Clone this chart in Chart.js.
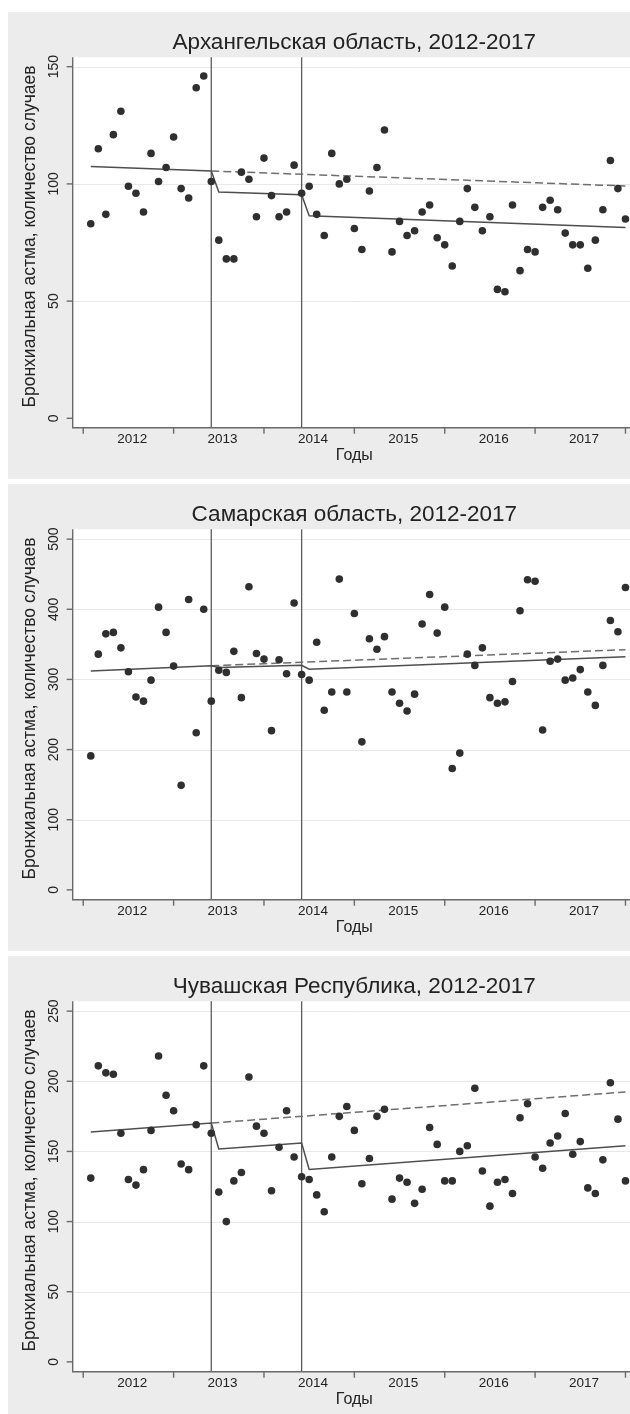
<!DOCTYPE html>
<html>
<head>
<meta charset="utf-8">
<script src="https://cdn.jsdelivr.net/npm/chart.js@4.4.1/dist/chart.umd.min.js"></script>
<style>
  html, body { margin: 0; padding: 0; background: #ffffff; overflow: hidden; width: 630px; height: 1414px; }
  canvas.panel { position: absolute; left: 8px; }
</style>
</head>
<body>
<canvas id="arkh" class="panel" width="632" height="467" style="top:12px"></canvas>
<canvas id="samara" class="panel" width="632" height="467" style="top:484px"></canvas>
<canvas id="chuv" class="panel" width="632" height="467" style="top:956px"></canvas>
<script>
// Monthly series, January 2012 (month 1) to December 2017 (month 72)
const months = Array.from({ length: 72 }, (_, i) => i + 1);

// X axis: year boundaries and year labels
const yearTickMonths = [0, 12, 24, 36, 48, 60, 72];
const yearLabels = ['2012', '2013', '2014', '2015', '2016', '2017'];
const yearLabelMonths = [6.5, 18.5, 30.5, 42.5, 54.5, 66.5];

// Interventions (vertical reference lines)
const breakMonths = [17, 29];

// Segmented-regression fit: knots of the fitted line and of the counterfactual trend
const fitMonths = [1, 17, 18, 29, 30, 72];
const counterfactualMonths = [17, 72];

// Архангельская область
const arkhCases = [83, 115, 87, 121, 131, 99, 96, 88, 113, 101,
  107, 120, 98, 94, 141, 146, 101, 76, 68, 68,
  105, 102, 86, 111, 95, 86, 88, 108, 96, 99,
  87, 78, 113, 100, 102, 81, 72, 97, 107, 123,
  71, 84, 78, 80, 88, 91, 77, 74, 65, 84,
  98, 90, 80, 86, 55, 54, 91, 63, 72, 71,
  90, 93, 89, 79, 74, 74, 64, 76, 89, 110,
  98, 85];
const arkhFit = [107.4, 105.5, 96.5, 95.4, 86.4, 81.4];
const arkhCounterfactual = [105.5, 99.1];
const arkhTicks = [0, 50, 100, 150];

// Самарская область
const samaraCases = [191, 336, 365, 367, 345, 311, 275, 269, 299, 403,
  367, 319, 149, 414, 224, 400, 269, 313, 310, 340,
  274, 432, 337, 329, 227, 328, 308, 409, 307, 299,
  353, 256, 282, 443, 282, 394, 211, 358, 343, 361,
  282, 266, 255, 279, 379, 421, 366, 403, 173, 195,
  336, 320, 345, 274, 266, 268, 297, 398, 442, 440,
  228, 326, 329, 299, 302, 314, 282, 263, 320, 384,
  368, 431];
const samaraFit = [311.9, 319.5, 317.0, 320.2, 314.6, 332.3];
const samaraCounterfactual = [319.5, 342.4];
const samaraTicks = [0, 100, 200, 300, 400, 500];

// Чувашская Республика
const chuvCases = [131, 211, 206, 205, 163, 130, 126, 137, 165, 218,
  190, 179, 141, 137, 169, 211, 163, 121, 100, 129,
  135, 203, 168, 163, 122, 153, 179, 146, 132, 130,
  119, 107, 146, 175, 182, 165, 127, 145, 175, 180,
  116, 131, 128, 113, 123, 167, 155, 129, 129, 150,
  154, 195, 136, 111, 128, 130, 120, 174, 184, 146,
  138, 156, 161, 177, 148, 157, 124, 120, 144, 199,
  173, 129];
const chuvFit = [163.8, 170.2, 151.7, 156.0, 137.1, 154.1];
const chuvCounterfactual = [170.2, 192.4];
const chuvTicks = [0, 50, 100, 150, 200, 250];

const FONT = '"Liberation Sans", Arial, Helvetica, sans-serif';
const AXIS_TITLE = 'Бронхиальная астма, количество случаев';
const X_TITLE = 'Годы';

// Panel background, gridlines and intervention lines
const backdrop = {
  id: 'backdrop',
  beforeDraw(chart) {
    const { ctx, chartArea: a, width, height } = chart;
    ctx.save();
    ctx.fillStyle = '#ececec';
    ctx.fillRect(0, 0, width, height);
    ctx.fillStyle = '#ffffff';
    ctx.fillRect(a.left, a.top, a.right - a.left, a.bottom - a.top);
    ctx.restore();
  },
  beforeDatasetsDraw(chart, args, opts) {
    const { ctx, chartArea: a, scales } = chart;
    ctx.save();
    ctx.strokeStyle = '#e8e8e8';
    ctx.lineWidth = 1;
    opts.yTicks.forEach(v => {
      if (v === 0) return;
      const y = Math.round(scales.y.getPixelForValue(v)) + 0.5;
      ctx.beginPath(); ctx.moveTo(a.left, y); ctx.lineTo(a.right, y); ctx.stroke();
    });
    ctx.strokeStyle = '#5c5c5c';
    ctx.lineWidth = 1.3;
    breakMonths.forEach(m => {
      const x = scales.x.getPixelForValue(m);
      ctx.beginPath(); ctx.moveTo(x, a.top); ctx.lineTo(x, a.bottom); ctx.stroke();
    });
    ctx.restore();
  }
};

// Axes, tick marks, tick labels and titles
const frame = {
  id: 'frame',
  afterDraw(chart, args, opts) {
    const { ctx, chartArea: a, scales } = chart;
    const cx = (a.left + a.right) / 2;
    ctx.save();
    ctx.strokeStyle = '#6a6a6a';
    ctx.lineWidth = 1.4;
    ctx.beginPath();
    ctx.moveTo(a.left, a.top); ctx.lineTo(a.left, a.bottom); ctx.lineTo(a.right, a.bottom);
    ctx.stroke();

    // y ticks
    ctx.fillStyle = '#222';
    ctx.font = '14px ' + FONT;
    ctx.textAlign = 'center';
    ctx.textBaseline = 'middle';
    opts.yTicks.forEach(v => {
      const y = scales.y.getPixelForValue(v);
      ctx.beginPath(); ctx.moveTo(a.left - 6, y); ctx.lineTo(a.left, y); ctx.stroke();
      ctx.save();
      ctx.translate(a.left - 19, y);
      ctx.rotate(-Math.PI / 2);
      ctx.fillText(String(v), 0, 0);
      ctx.restore();
    });

    // x ticks
    yearTickMonths.forEach(m => {
      const x = scales.x.getPixelForValue(m);
      ctx.beginPath(); ctx.moveTo(x, a.bottom); ctx.lineTo(x, a.bottom + 6); ctx.stroke();
    });
    ctx.font = '13.5px ' + FONT;
    yearLabels.forEach((t, i) => {
      ctx.fillText(t, scales.x.getPixelForValue(yearLabelMonths[i]), a.bottom + 12);
    });

    // titles
    ctx.font = '16px ' + FONT;
    ctx.fillText(X_TITLE, cx, a.bottom + 28);
    ctx.save();
    ctx.translate(22, (a.top + a.bottom) / 2 - 6);
    ctx.rotate(-Math.PI / 2);
    ctx.font = '17.5px ' + FONT;
    ctx.fillText(AXIS_TITLE, 0, 0);
    ctx.restore();
    ctx.font = '22.5px ' + FONT;
    ctx.fillText(opts.title, cx, 31);
    ctx.restore();
  }
};

function toPoints(xs, ys) {
  return ys.map((y, i) => ({ x: xs[i], y }));
}

function makePanel(id, title, cases, fit, counterfactual, ticks, yMin, yMax) {
  new Chart(document.getElementById(id), {
    type: 'scatter',
    data: {
      datasets: [
        {
          type: 'line',
          data: toPoints(counterfactualMonths, counterfactual),
          borderColor: '#6e6e6e',
          borderWidth: 1.5,
          borderDash: [8, 4],
          pointRadius: 0,
          fill: false,
          order: 3
        },
        {
          type: 'line',
          data: toPoints(fitMonths, fit),
          borderColor: '#4e4e4e',
          borderWidth: 1.5,
          pointRadius: 0,
          fill: false,
          order: 2
        },
        {
          data: toPoints(months, cases),
          backgroundColor: '#2f2f2f',
          borderWidth: 0,
          pointRadius: 3.8,
          order: 1
        }
      ]
    },
    options: {
      responsive: false,
      animation: false,
      devicePixelRatio: 1,
      layout: { padding: { left: 64.7, right: 1, top: 45.3, bottom: 51.3 } },
      scales: {
        x: { type: 'linear', min: -1.4, max: 73.4, display: false },
        y: { type: 'linear', min: yMin, max: yMax, display: false }
      },
      plugins: {
        legend: { display: false },
        tooltip: { enabled: false },
        backdrop: { yTicks: ticks },
        frame: { yTicks: ticks, title: title }
      }
    },
    plugins: [backdrop, frame]
  });
}

makePanel('arkh', 'Архангельская область, 2012-2017', arkhCases, arkhFit, arkhCounterfactual, arkhTicks, -4, 154);
makePanel('samara', 'Самарская область, 2012-2017', samaraCases, samaraFit, samaraCounterfactual, samaraTicks, -14, 514);
makePanel('chuv', 'Чувашская Республика, 2012-2017', chuvCases, chuvFit, chuvCounterfactual, chuvTicks, -7, 257);
</script>
</body>
</html>
